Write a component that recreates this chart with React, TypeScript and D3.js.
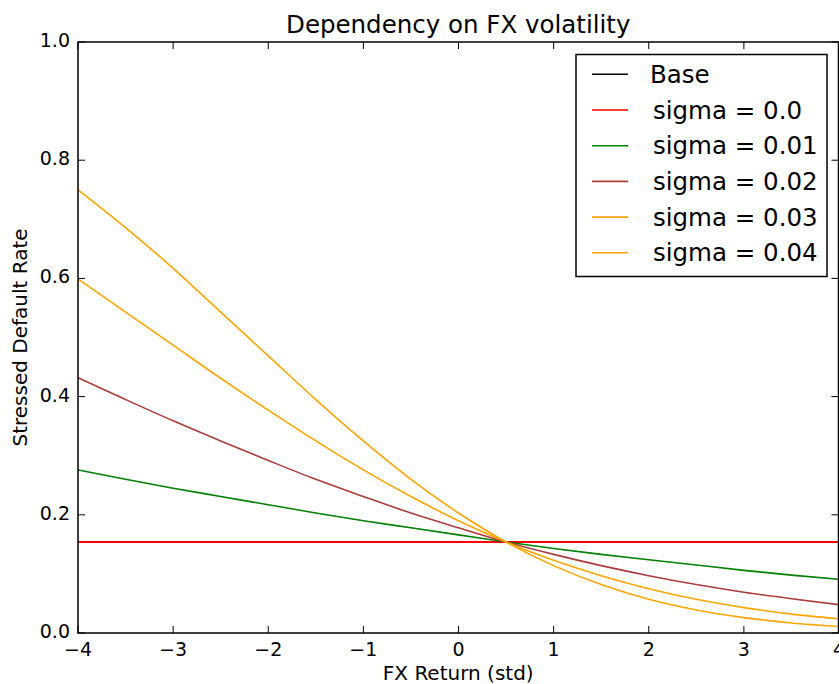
import React, {useEffect, useRef} from 'react';
import * as d3 from 'd3';

// FX return (std) grid
const fxReturn = [-4, -3.5, -3, -2.5, -2, -1.5, -1, -0.5, 0, 0.5, 1, 1.5, 2, 2.5, 3, 3.5, 4]

const base = [0.154, 0.154, 0.154, 0.154, 0.154, 0.154, 0.154, 0.154, 0.154, 0.154, 0.154, 0.154, 0.154, 0.154, 0.154, 0.154, 0.154]
const sigma00 = [0.154, 0.154, 0.154, 0.154, 0.154, 0.154, 0.154, 0.154, 0.154, 0.154, 0.154, 0.154, 0.154, 0.154, 0.154, 0.154, 0.154]
const sigma01 = [0.276, 0.260, 0.245, 0.231, 0.217, 0.203, 0.190, 0.178, 0.166, 0.154, 0.143, 0.133, 0.124, 0.115, 0.106, 0.098, 0.091]
const sigma02 = [0.432, 0.395, 0.359, 0.325, 0.292, 0.260, 0.231, 0.203, 0.178, 0.154, 0.133, 0.114, 0.097, 0.082, 0.069, 0.058, 0.048]
const sigma03 = [0.599, 0.543, 0.487, 0.431, 0.377, 0.325, 0.276, 0.231, 0.190, 0.154, 0.123, 0.097, 0.075, 0.057, 0.043, 0.032, 0.024]
const sigma04 = [0.750, 0.686, 0.617, 0.543, 0.469, 0.395, 0.325, 0.260, 0.203, 0.154, 0.114, 0.082, 0.057, 0.039, 0.026, 0.017, 0.011]

const seriesNames = ['Base', 'sigma = 0.0', 'sigma = 0.01', 'sigma = 0.02', 'sigma = 0.03', 'sigma = 0.04']
const seriesValues = [base, sigma00, sigma01, sigma02, sigma03, sigma04]
const seriesColors = ['#000000', '#ff0000', '#008000', '#ac3c3c', '#ffa500', '#ffa500']

const xTicks = [-4, -3, -2, -1, 0, 1, 2, 3, 4]
const yTicks = [0.0, 0.2, 0.4, 0.6, 0.8, 1.0]

const App = () => {

    const svgRef = useRef(null);

    const width = 839
    const height = 684
    const margin = {top: 42, right: 0, bottom: 51, left: 78}
    const font = 'DejaVu Sans, sans-serif'

    useEffect(() => {

        const svg = d3.select(svgRef.current)
        svg.selectAll('*').remove()

        const xScale = d3.scaleLinear()
            .domain([-4, 4])
            .range([margin.left, width - margin.right])

        const yScale = d3.scaleLinear()
            .domain([0, 1])
            .range([height - margin.bottom, margin.top])

        const line = d3.line()
            .x(d => xScale(d[0]))
            .y(d => yScale(d[1]))
            .curve(d3.curveMonotoneX)

        const plot = svg.append('g')

        seriesValues.forEach((vals, i) => {
            plot.append('path')
                .attr('d', line(fxReturn.map((x, j) => [x, vals[j]])))
                .attr('fill', 'none')
                .attr('stroke', seriesColors[i])
                .attr('stroke-width', i === 1 ? 2 : 1.6)
        })

        const x0 = margin.left, x1 = width - margin.right - 0.5
        const y0 = margin.top, y1 = height - margin.bottom

        // frame
        svg.append('rect')
            .attr('x', x0)
            .attr('y', y0)
            .attr('width', x1 - x0)
            .attr('height', y1 - y0)
            .attr('fill', 'none')
            .attr('stroke', '#000')
            .attr('stroke-width', 1.5)

        const tickLen = 7

        xTicks.forEach(t => {
            const px = xScale(t)
            svg.append('line').attr('x1', px).attr('x2', px).attr('y1', y1).attr('y2', y1 - tickLen)
                .attr('stroke', '#000').attr('stroke-width', 1)
            svg.append('line').attr('x1', px).attr('x2', px).attr('y1', y0).attr('y2', y0 + tickLen)
                .attr('stroke', '#000').attr('stroke-width', 1)
            svg.append('text')
                .attr('x', px)
                .attr('y', 656)
                .attr('text-anchor', 'middle')
                .style('font-family', font)
                .style('font-size', '19px')
                .attr('fill', '#000')
                .text(t < 0 ? '\u2212' + Math.abs(t) : String(t))
        })

        yTicks.forEach(t => {
            const py = yScale(t)
            svg.append('line').attr('x1', x0).attr('x2', x0 + tickLen).attr('y1', py).attr('y2', py)
                .attr('stroke', '#000').attr('stroke-width', 1)
            svg.append('line').attr('x1', x1).attr('x2', x1 - tickLen).attr('y1', py).attr('y2', py)
                .attr('stroke', '#000').attr('stroke-width', 1)
            svg.append('text')
                .attr('x', 70)
                .attr('y', py + 5)
                .attr('text-anchor', 'end')
                .style('font-family', font)
                .style('font-size', '19px')
                .attr('fill', '#000')
                .text(t.toFixed(1))
        })

        // titles
        svg.append('text')
            .attr('x', (x0 + x1) / 2)
            .attr('y', 33)
            .attr('text-anchor', 'middle')
            .style('font-family', font)
            .style('font-size', '24.5px')
            .text('Dependency on FX volatility')

        svg.append('text')
            .attr('x', (x0 + x1) / 2)
            .attr('y', 680)
            .attr('text-anchor', 'middle')
            .style('font-family', font)
            .style('font-size', '20px')
            .text('FX Return (std)')

        svg.append('text')
            .attr('transform', `translate(27, ${(y0 + y1) / 2}) rotate(-90)`)
            .attr('text-anchor', 'middle')
            .style('font-family', font)
            .style('font-size', '20px')
            .text('Stressed Default Rate')

        // legend
        const legend = svg.append('g')
        legend.append('rect')
            .attr('x', 576)
            .attr('y', 54.5)
            .attr('width', 251)
            .attr('height', 222)
            .attr('fill', '#fff')
            .attr('stroke', '#000')
            .attr('stroke-width', 1.5)

        seriesNames.forEach((name, i) => {
            const cy = 74.3 + i * 35.7
            legend.append('line')
                .attr('x1', 592).attr('x2', 628)
                .attr('y1', cy).attr('y2', cy)
                .attr('stroke', seriesColors[i])
                .attr('stroke-width', 1.6)
            legend.append('text')
                .attr('x', i === 0 ? 650 : 653)
                .attr('y', cy + 8.6)
                .style('font-family', font)
                .style('font-size', '24.5px')
                .attr('fill', '#000')
                .text(name)
        })

    }, [])

    return(
        <svg ref = {svgRef} width = {width} height = {height}
            style = {{position: 'absolute', left: 0, top: 0, background: '#fff'}}>
        </svg>
    );
}

export default App;
